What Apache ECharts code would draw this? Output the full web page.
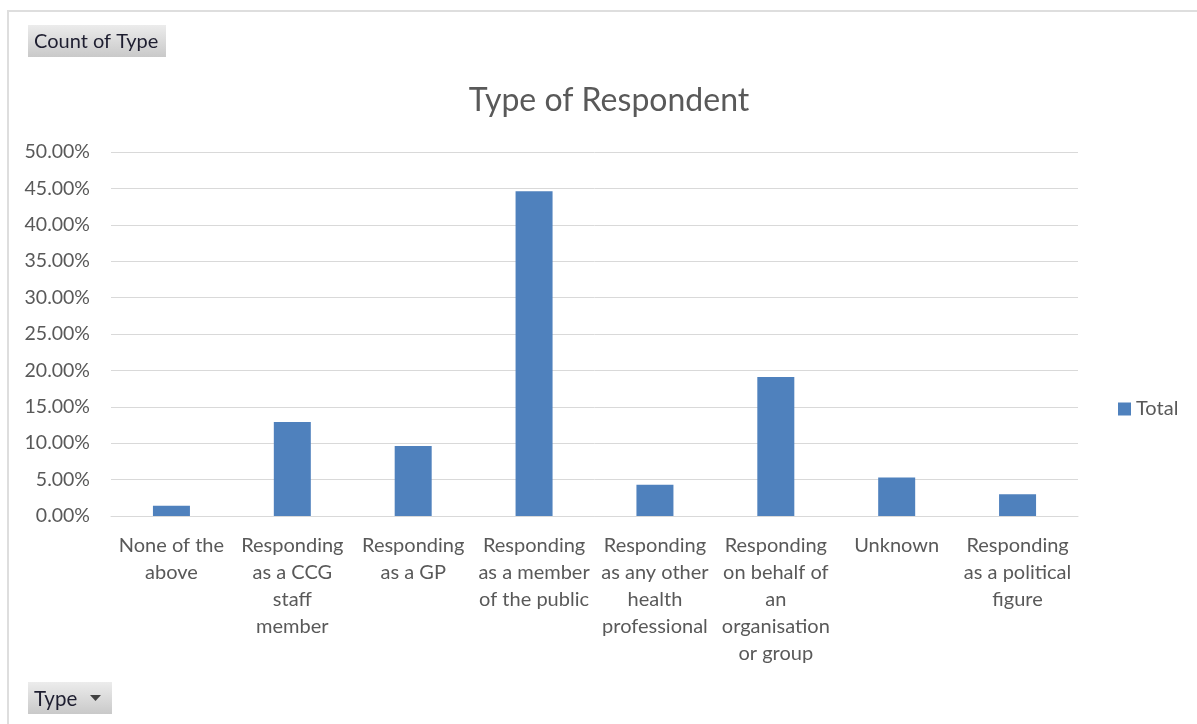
<!DOCTYPE html>
<html>
<head>
<meta charset="utf-8">
<title>Type of Respondent</title>
<script src="https://cdn.jsdelivr.net/npm/echarts@6/dist/echarts.min.js"></script>
<style>
  html, body { margin: 0; padding: 0; background: #ffffff; }
  #chart { width: 1197px; height: 724px; }
</style>
</head>
<body>
<div id="chart"></div>
<script>
// Respondent categories (axis labels wrapped as in the pivot chart)
const categories = [
  'None of the\nabove',
  'Responding\nas a CCG\nstaff\nmember',
  'Responding\nas a GP',
  'Responding\nas a member\nof the public',
  'Responding\nas any other\nhealth\nprofessional',
  'Responding\non behalf of\nan\norganisation\nor group',
  'Unknown',
  'Responding\nas a political\nfigure'
];

// Share of respondents, in percent
const totals = [1.4, 12.9, 9.6, 44.6, 4.3, 19.1, 5.3, 3.0];

// Value axis range and step, in percent
const yMin = 0;
const yMax = 50;
const yStep = 5;

const seriesName = 'Total';
const chartTitle = 'Type of Respondent';
const fieldButtons = ['Count of Type', 'Type'];

const FONT = 'Lato, "Liberation Sans", sans-serif';
const TEXT_GREY = '#595959';
const GRID_GREY = '#d9d9d9';
const BAR_BLUE = '#4f81bd';

const buttonFill = new echarts.graphic.LinearGradient(0, 0, 0, 1, [
  { offset: 0, color: '#ececec' },
  { offset: 1, color: '#c9c9c9' }
]);

const chart = echarts.init(document.getElementById('chart'), null, { renderer: 'canvas' });

chart.setOption({
  animation: false,
  backgroundColor: '#ffffff',
  textStyle: { fontFamily: FONT },
  grid: { left: 111, right: 119, top: 152, bottom: 208, containLabel: false },
  legend: {
    data: [seriesName],
    left: 1113,
    top: 394,
    orient: 'vertical',
    itemWidth: 13,
    itemHeight: 13,
    itemGap: 6,
    icon: 'rect',
    textStyle: { fontFamily: FONT, fontSize: 20, color: TEXT_GREY }
  },
  xAxis: {
    type: 'category',
    data: categories,
    axisTick: { show: false },
    axisLine: { show: true, lineStyle: { color: GRID_GREY, width: 1 } },
    axisLabel: {
      interval: 0,
      margin: 16,
      fontFamily: FONT,
      fontSize: 20,
      lineHeight: 27,
      color: TEXT_GREY,
      align: 'center'
    }
  },
  yAxis: {
    type: 'value',
    min: yMin,
    max: yMax,
    interval: yStep,
    axisLine: { show: false },
    axisTick: { show: false },
    splitLine: { show: true, lineStyle: { color: GRID_GREY, width: 1 } },
    axisLabel: {
      margin: 21,
      fontFamily: FONT,
      fontSize: 19.5,
      color: TEXT_GREY,
      formatter: v => v.toFixed(2) + '%'
    }
  },
  series: [{
    name: seriesName,
    type: 'bar',
    data: totals,
    barWidth: 37,
    itemStyle: { color: BAR_BLUE }
  }],
  graphic: [
    // chart area frame
    {
      type: 'rect',
      shape: { x: 8, y: 11, width: 1200, height: 800 },
      style: { fill: 'none', stroke: '#dedede', lineWidth: 2 },
      silent: true,
      z: -1
    },
    // chart title
    {
      type: 'text',
      x: 609,
      y: 101,
      style: {
        text: chartTitle,
        fontFamily: FONT,
        fontSize: 32,
        fill: TEXT_GREY,
        textAlign: 'center',
        textVerticalAlign: 'middle'
      }
    },
    // value field button
    {
      type: 'group',
      x: 28,
      y: 25,
      children: [
        { type: 'rect', shape: { x: 0, y: 0, width: 138, height: 32 }, style: { fill: buttonFill } },
        {
          type: 'text', x: 6, y: 17,
          style: { text: fieldButtons[0], fontFamily: FONT, fontSize: 20, fill: '#1e1e30', textVerticalAlign: 'middle' }
        }
      ]
    },
    // axis field button with drop-down arrow
    {
      type: 'group',
      x: 28,
      y: 682,
      children: [
        { type: 'rect', shape: { x: 0, y: 0, width: 84, height: 32 }, style: { fill: buttonFill } },
        {
          type: 'text', x: 6, y: 17,
          style: { text: fieldButtons[1], fontFamily: FONT, fontSize: 20.5, fill: '#1e1e30', textVerticalAlign: 'middle' }
        },
        {
          type: 'polygon',
          shape: { points: [[62, 13], [73, 13], [67.5, 19]] },
          style: { fill: '#404040' }
        }
      ]
    }
  ]
});
</script>
</body>
</html>
